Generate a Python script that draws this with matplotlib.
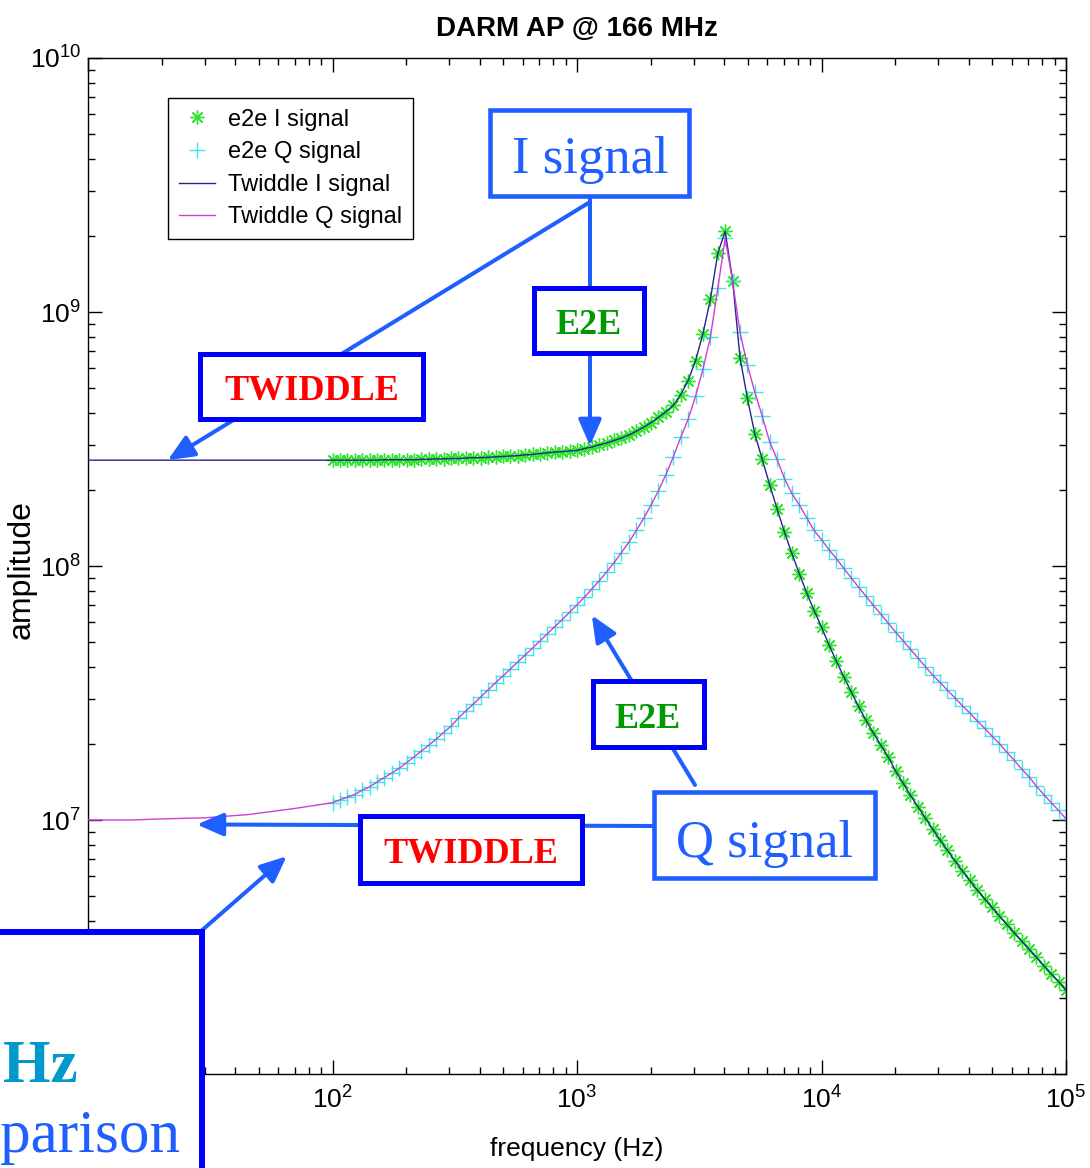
import matplotlib
matplotlib.use('Agg')
import matplotlib.pyplot as plt
from matplotlib.patches import Rectangle
from matplotlib.lines import Line2D
from matplotlib.ticker import FixedLocator, FixedFormatter, LogLocator, NullFormatter

SANS = ['Liberation Sans Narrow', 'Liberation Sans', 'DejaVu Sans']
SERIF = ['Liberation Serif', 'DejaVu Serif']
plt.rcParams['font.family'] = SANS
plt.rcParams['mathtext.fontset'] = 'custom'
plt.rcParams['mathtext.rm'] = 'Liberation Sans'

W, H = 1090, 1168

# e2e frequency grid: 33 points per decade, 100 Hz .. 100 kHz
E2E_MANTISSA = [1.000, 1.072, 1.150, 1.233, 1.322, 1.417, 1.520, 1.630, 1.748, 1.874,
                2.009, 2.154, 2.310, 2.477, 2.656, 2.848, 3.054, 3.275, 3.511, 3.765,
                4.037, 4.329, 4.642, 4.977, 5.337, 5.722, 6.136, 6.579, 7.055, 7.565,
                8.111, 8.697, 9.326]
E2E_DECADES = [1e2, 1e3, 1e4]
E2E_LAST_FREQ = 1e5

# e2e I signal amplitude
E2E_I = [
    2.61e8, 2.61e8, 2.61e8, 2.61e8, 2.61e8, 2.61e8, 2.61e8, 2.62e8, 2.62e8, 2.62e8,
    2.62e8, 2.62e8, 2.63e8, 2.63e8, 2.64e8, 2.64e8, 2.65e8, 2.65e8, 2.66e8, 2.67e8,
    2.67e8, 2.68e8, 2.69e8, 2.70e8, 2.71e8, 2.72e8, 2.74e8, 2.75e8, 2.77e8, 2.79e8,
    2.81e8, 2.82e8, 2.84e8,
    2.85e8, 2.90e8, 2.94e8, 3.00e8, 3.05e8, 3.12e8, 3.19e8, 3.28e8, 3.39e8, 3.52e8,
    3.67e8, 3.85e8, 4.05e8, 4.29e8, 4.73e8, 5.37e8, 6.43e8, 8.22e8, 1.12e9, 1.70e9,
    2.08e9, 1.33e9, 6.61e8, 4.57e8, 3.31e8, 2.63e8, 2.09e8, 1.68e8, 1.36e8, 1.12e8,
    9.33e7, 7.85e7, 6.68e7,
    5.75e7, 4.90e7, 4.22e7, 3.67e7, 3.20e7, 2.80e7, 2.47e7, 2.20e7, 1.97e7, 1.77e7,
    1.56e7, 1.40e7, 1.25e7, 1.13e7, 1.02e7, 9.20e6, 8.34e6, 7.59e6, 6.92e6, 6.31e6,
    5.78e6, 5.31e6, 4.90e6, 4.53e6, 4.19e6, 3.88e6, 3.60e6, 3.34e6, 3.10e6, 2.88e6,
    2.67e6, 2.48e6, 2.31e6,
    2.14e6,
]

# e2e Q signal amplitude
E2E_Q = [
    1.17e7, 1.20e7, 1.23e7, 1.26e7, 1.31e7, 1.35e7, 1.41e7, 1.47e7, 1.53e7, 1.60e7,
    1.68e7, 1.77e7, 1.87e7, 1.97e7, 2.08e7, 2.21e7, 2.34e7, 2.52e7, 2.69e7, 2.86e7,
    3.05e7, 3.25e7, 3.47e7, 3.69e7, 3.93e7, 4.19e7, 4.46e7, 4.75e7, 5.07e7, 5.41e7,
    5.77e7, 6.15e7, 6.58e7,
    7.03e7, 7.53e7, 8.11e7, 8.75e7, 9.48e7, 1.03e8, 1.13e8, 1.24e8, 1.38e8, 1.54e8,
    1.74e8, 1.98e8, 2.29e8, 2.69e8, 3.21e8, 3.78e8, 4.66e8, 5.96e8, 7.94e8, 1.24e9,
    1.95e9, 1.32e9, 8.32e8, 6.17e8, 4.84e8, 3.89e8, 3.09e8, 2.63e8, 2.21e8, 1.93e8,
    1.74e8, 1.55e8, 1.38e8,
    1.27e8, 1.16e8, 1.07e8, 9.79e7, 8.99e7, 8.26e7, 7.60e7, 7.00e7, 6.46e7, 5.96e7,
    5.50e7, 5.08e7, 4.70e7, 4.35e7, 4.02e7, 3.72e7, 3.48e7, 3.24e7, 3.03e7, 2.82e7,
    2.64e7, 2.46e7, 2.30e7, 2.14e7, 2.00e7, 1.85e7, 1.72e7, 1.59e7, 1.48e7, 1.36e7,
    1.26e7, 1.17e7, 1.09e7,
    1.01e7,
]

# twiddle model below 100 Hz (above that it sits on the e2e points)
TW_LOW_FREQ = [10, 15, 20, 30, 45, 70]
TW_LOW_I = [2.61e8, 2.61e8, 2.61e8, 2.61e8, 2.61e8, 2.61e8]
TW_LOW_Q = [1.00e7, 1.00e7, 1.01e7, 1.02e7, 1.05e7, 1.11e7]

# 10^1 and 10^6 sit under the lower-left slide box, so they carry no label
X_TICKS = [1e1, 1e2, 1e3, 1e4, 1e5]
X_TICK_LABELS = ['', r'$\mathregular{10^{2}}$', r'$\mathregular{10^{3}}$',
                 r'$\mathregular{10^{4}}$', r'$\mathregular{10^{5}}$']
Y_TICKS = [1e6, 1e7, 1e8, 1e9, 1e10]
Y_TICK_LABELS = ['', r'$\mathregular{10^{7}}$', r'$\mathregular{10^{8}}$',
                 r'$\mathregular{10^{9}}$', r'$\mathregular{10^{10}}$']

e2e_freq = [m * d for d in E2E_DECADES for m in E2E_MANTISSA] + [E2E_LAST_FREQ]
tw_freq = TW_LOW_FREQ + e2e_freq
tw_i = TW_LOW_I + E2E_I
tw_q = TW_LOW_Q + E2E_Q

fig = plt.figure(figsize=(W / 100, H / 100), dpi=100)
ax = fig.add_axes([88 / W, 1 - 1074 / H, 978 / W, 1016 / H])

ax.plot(e2e_freq, E2E_I, ls='none', marker=(8, 2, 0), ms=10, mec='#2ee62e', mew=1.0,
        label='e2e I signal', zorder=2)
ax.plot(e2e_freq, E2E_Q, ls='none', marker='+', ms=11, mec='#3ee6e6', mew=1.0,
        label='e2e Q signal', zorder=2)
ax.plot(tw_freq, tw_i, color='#25258c', lw=1.0, label='Twiddle I signal', zorder=3)
ax.plot(tw_freq, tw_q, color='#d23cd2', lw=1.0, label='Twiddle Q signal', zorder=3)

ax.set_xscale('log')
ax.set_yscale('log')
ax.set_xlim(1e1, 1e5)
ax.set_ylim(1e6, 1e10)
ax.xaxis.set_major_locator(FixedLocator(X_TICKS))
ax.xaxis.set_major_formatter(FixedFormatter(X_TICK_LABELS))
ax.yaxis.set_major_locator(FixedLocator(Y_TICKS))
ax.yaxis.set_major_formatter(FixedFormatter(Y_TICK_LABELS))
for axis in (ax.xaxis, ax.yaxis):
    axis.set_minor_locator(LogLocator(base=10, subs=range(2, 10), numticks=20))
    axis.set_minor_formatter(NullFormatter())
ax.tick_params(which='both', direction='in', top=True, right=True, width=1, colors='black')
ax.tick_params(which='major', length=10, labelsize=19)
ax.tick_params(which='minor', length=5)
ax.tick_params(axis='x', pad=9)
ax.tick_params(axis='y', pad=5)
for s in ax.spines.values():
    s.set_linewidth(1)

ax.set_title('DARM AP @ 166 MHz', fontsize=20, fontweight='bold', pad=16)
ax.set_xlabel('frequency (Hz)', fontsize=19)
ax.xaxis.set_label_coords(0.5, (1074 - 1137) / 1016)
ax.set_ylabel('amplitude', fontsize=23)
ax.yaxis.set_label_coords((37 - 88) / 978, (1074 - 570) / 1016)

leg = ax.legend(loc='upper left', bbox_to_anchor=(80 / 978, (1074 - 98) / 1016),
                borderaxespad=0, fontsize=17, frameon=True, fancybox=False,
                edgecolor='black', framealpha=1, handlelength=1.55, handletextpad=0.55,
                labelspacing=0.45, borderpad=0.45)
leg.get_frame().set_linewidth(1)

# ---- overlay call-outs (figure pixel coordinates) ----
BLUE = '#1f5fff'
DEEP = '#0000ff'


def fxy(x, y):
    return x / W, 1 - y / H


def box(x0, y0, x1, y1, edge, lw):
    fig.add_artist(Rectangle(fxy(x0, y1), (x1 - x0) / W, (y1 - y0) / H,
                             transform=fig.transFigure, facecolor='white',
                             edgecolor=edge, linewidth=lw, zorder=5))


def label(x, y, s, color, size, weight='normal', ha='center'):
    fig.text(*fxy(x, y), s, color=color, fontsize=size, fontweight=weight,
             family=SERIF, ha=ha, va='baseline', zorder=6)


def arrow(x, y, tip):
    ax.annotate('', xy=tip, xycoords='data', xytext=fxy(x, y),
                textcoords='figure fraction', annotation_clip=False,
                arrowprops=dict(arrowstyle='-|>,head_length=0.8,head_width=0.35',
                                color=BLUE, lw=2.9, shrinkA=0, shrinkB=0,
                                mutation_scale=20))


# I signal call-outs
fig.add_artist(Line2D([590 / W, 590 / W], [1 - 198 / H, 1 - 290 / H],
                      transform=fig.transFigure, color=BLUE, lw=2.9, zorder=4))
arrow(590, 202, (21.2, 2.61e8))
arrow(590, 352, (1130, 2.97e8))
box(490, 110, 689, 196, BLUE, 3.3)
label(590, 173, 'I signal', BLUE, 38)
box(534, 288, 644, 353, DEEP, 3.6)
label(589, 334, 'E2E', '#009900', 26, 'bold')
box(200, 354, 423, 419, DEEP, 3.6)
label(312, 400, 'TWIDDLE', '#ff0000', 26, 'bold')

# Q signal call-outs
arrow(654, 826, (27.9, 9.6e6))
arrow(695, 785, (1150, 6.4e7))
arrow(200, 932, (65, 7.2e6))
box(593, 681, 704, 747, DEEP, 3.6)
label(648, 728, 'E2E', '#009900', 26, 'bold')
box(360, 816, 582, 883, DEEP, 3.6)
label(471, 863, 'TWIDDLE', '#ff0000', 26, 'bold')
box(654, 792, 875, 878, BLUE, 3.3)
label(765, 857, 'Q signal', BLUE, 38)

# clipped slide box at the lower left
box(-20, 932, 202, 1200, DEEP, 4.3)
label(3, 1082, 'Hz', '#0099cc', 44, 'bold', ha='left')
label(0, 1152, 'parison', BLUE, 44, ha='left')

fig.savefig('out.png', dpi=100)
